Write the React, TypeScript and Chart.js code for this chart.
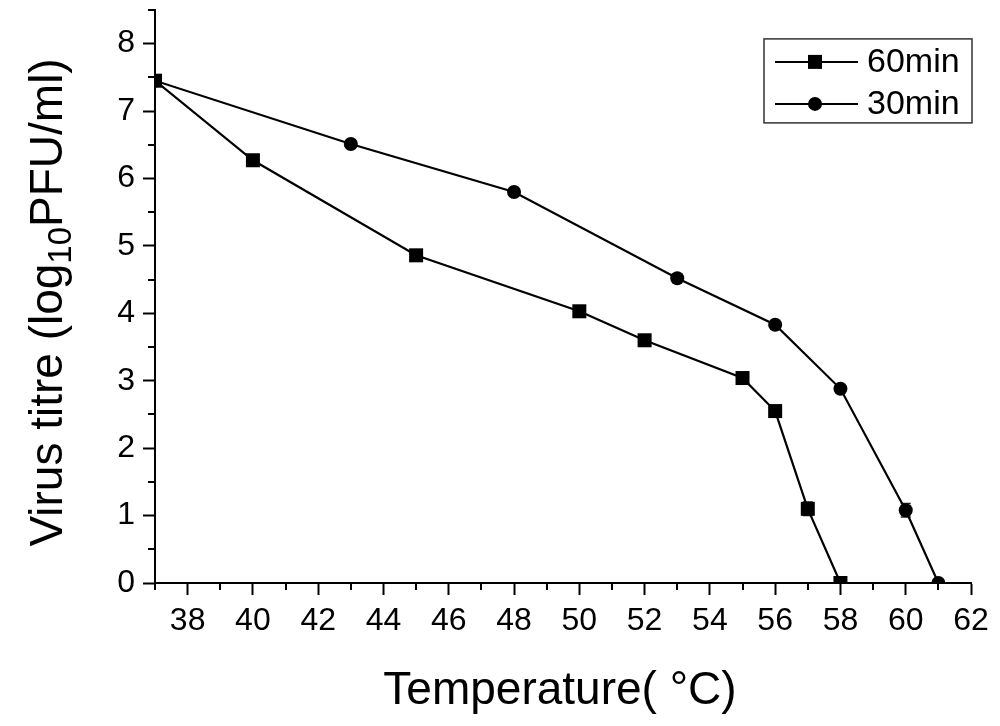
import React, { useEffect, useRef } from "react";
import { Chart, registerables } from "chart.js";

Chart.register(...registerables);

// Heat inactivation: virus titre after 60 min and 30 min at each temperature
const temps60 = [37, 40, 45, 50, 52, 55, 56, 57, 58];
const titre60 = [7.45, 6.27, 4.86, 4.03, 3.6, 3.04, 2.55, 1.1, 0];
const err60 = [0, 0.03, 0.03, 0.03, 0.08, 0.03, 0.03, 0.1, 0];

const temps30 = [37, 43, 48, 53, 56, 58, 60, 61];
const titre30 = [7.45, 6.51, 5.8, 4.52, 3.83, 2.88, 1.08, 0];
const err30 = [0, 0.03, 0.03, 0.03, 0.03, 0.03, 0.1, 0];

const seriesLabels = ["60min", "30min"];

const xTicks = [38, 40, 42, 44, 46, 48, 50, 52, 54, 56, 58, 60, 62];
const xMinorTicks = [37, 39, 41, 43, 45, 47, 49, 51, 53, 55, 57, 59, 61];
const yTicks = [0, 1, 2, 3, 4, 5, 6, 7, 8];
const yMinorTicks = [0.5, 1.5, 2.5, 3.5, 4.5, 5.5, 6.5, 7.5, 8.5];

const FONT = '"Liberation Sans", Arial, Helvetica, sans-serif';

const toPoints = (xs: number[], ys: number[]) => xs.map((x, i) => ({ x, y: ys[i] }));

// Short outward minor ticks on both axes
const minorTicksPlugin = {
  id: "minorTicks",
  afterDraw(chart: any) {
    const { ctx, chartArea, scales } = chart;
    ctx.save();
    ctx.strokeStyle = "#000";
    ctx.lineWidth = 2;
    ctx.beginPath();
    xMinorTicks.forEach((v) => {
      const px = Math.round(scales.x.getPixelForValue(v));
      ctx.moveTo(px, chartArea.bottom);
      ctx.lineTo(px, chartArea.bottom + 7);
    });
    yMinorTicks.forEach((v) => {
      const py = Math.round(scales.y.getPixelForValue(v));
      ctx.moveTo(chartArea.left, py);
      ctx.lineTo(chartArea.left - 7, py);
    });
    ctx.stroke();
    ctx.restore();
  },
};

// Vertical error bars with small caps, drawn under the markers
const errorBarsPlugin = {
  id: "errorBars",
  beforeDatasetsDraw(chart: any) {
    const { ctx, scales } = chart;
    const sets = [
      { xs: temps60, ys: titre60, es: err60 },
      { xs: temps30, ys: titre30, es: err30 },
    ];
    ctx.save();
    ctx.strokeStyle = "#222";
    ctx.lineWidth = 1.5;
    sets.forEach(({ xs, ys, es }) => {
      xs.forEach((x, i) => {
        if (!es[i]) return;
        const px = scales.x.getPixelForValue(x);
        const top = scales.y.getPixelForValue(ys[i] + es[i]);
        const bot = scales.y.getPixelForValue(Math.max(0, ys[i] - es[i]));
        ctx.beginPath();
        ctx.moveTo(px, top);
        ctx.lineTo(px, bot);
        ctx.moveTo(px - 5, top);
        ctx.lineTo(px + 5, top);
        ctx.moveTo(px - 5, bot);
        ctx.lineTo(px + 5, bot);
        ctx.stroke();
      });
    });
    ctx.restore();
  },
};

// Axis titles (with subscript in the y title) and the boxed legend
const annotationsPlugin = {
  id: "annotations",
  afterDraw(chart: any) {
    const { ctx, chartArea } = chart;
    ctx.save();
    ctx.fillStyle = "#000";

    // x-axis title
    ctx.font = `46px ${FONT}`;
    ctx.textAlign = "center";
    ctx.textBaseline = "alphabetic";
    ctx.fillText("Temperature( °C)", (chartArea.left + chartArea.right) / 2 - 3, 704);

    // y-axis title, rotated, with "10" as subscript
    const partA = "Virus titre (log";
    const partSub = "10";
    const partB = "PFU/ml)";
    ctx.font = `46px ${FONT}`;
    const wA = ctx.measureText(partA).width;
    const wB = ctx.measureText(partB).width;
    ctx.font = `33px ${FONT}`;
    const wS = ctx.measureText(partSub).width;
    const total = wA + wS + wB;
    ctx.translate(62, (chartArea.top + chartArea.bottom) / 2 + 6);
    ctx.rotate(-Math.PI / 2);
    ctx.textAlign = "left";
    let cx = -total / 2;
    ctx.font = `46px ${FONT}`;
    ctx.fillText(partA, cx, 0);
    cx += wA;
    ctx.font = `33px ${FONT}`;
    ctx.fillText(partSub, cx, 9);
    cx += wS;
    ctx.font = `46px ${FONT}`;
    ctx.fillText(partB, cx, 0);
    ctx.setTransform(1, 0, 0, 1, 0, 0);

    // legend box
    const boxRight = chartArea.right + 1;
    const boxLeft = boxRight - 208;
    const boxTop = chartArea.top + 29;
    const boxH = 84;
    ctx.strokeStyle = "#333";
    ctx.lineWidth = 1.5;
    ctx.strokeRect(boxLeft, boxTop, boxRight - boxLeft, boxH);

    const rows = [boxTop + 23, boxTop + 65];
    ctx.font = `34px ${FONT}`;
    ctx.textAlign = "left";
    ctx.textBaseline = "middle";
    rows.forEach((ry, i) => {
      ctx.strokeStyle = "#000";
      ctx.lineWidth = 2;
      ctx.beginPath();
      ctx.moveTo(boxLeft + 11, ry);
      ctx.lineTo(boxLeft + 94, ry);
      ctx.stroke();
      const mx = boxLeft + 51;
      ctx.fillStyle = "#000";
      if (i === 0) {
        ctx.fillRect(mx - 7, ry - 7, 14, 14);
      } else {
        ctx.beginPath();
        ctx.arc(mx, ry, 7, 0, Math.PI * 2);
        ctx.fill();
      }
      ctx.fillText(seriesLabels[i], boxLeft + 103, ry + 1);
    });
    ctx.restore();
  },
};

export default function App() {
  const canvasRef = useRef<HTMLCanvasElement | null>(null);

  useEffect(() => {
    document.body.style.margin = "0";
    const canvas = canvasRef.current;
    if (!canvas) return;

    const chart = new Chart(canvas, {
      type: "scatter",
      data: {
        datasets: [
          {
            label: seriesLabels[0],
            data: toPoints(temps60, titre60),
            showLine: true,
            borderColor: "#000",
            backgroundColor: "#000",
            borderWidth: 2.2,
            pointStyle: "rect",
            pointRadius: 9.9,
            pointHoverRadius: 9.9,
            pointBorderWidth: 0,
          },
          {
            label: seriesLabels[1],
            data: toPoints(temps30, titre30),
            showLine: true,
            borderColor: "#000",
            backgroundColor: "#000",
            borderWidth: 2.2,
            pointStyle: "circle",
            pointRadius: 7,
            pointHoverRadius: 7,
            pointBorderWidth: 0,
          },
        ],
      },
      options: {
        animation: false,
        responsive: false,
        maintainAspectRatio: false,
        events: [],
        layout: { padding: { top: 7, right: 29, left: 0, bottom: 0 } },
        plugins: {
          legend: { display: false },
          tooltip: { enabled: false },
        },
        scales: {
          x: {
            type: "linear",
            min: 37,
            max: 62,
            afterBuildTicks: (scale: any) => {
              scale.ticks = xTicks.map((v) => ({ value: v }));
            },
            afterFit: (scale: any) => {
              scale.height = 143;
              scale.paddingLeft = 0;
              scale.paddingRight = 0;
            },
            border: { display: true, color: "#000", width: 2 },
            grid: {
              display: true,
              drawOnChartArea: false,
              drawTicks: true,
              tickLength: 12,
              tickWidth: 2,
              tickColor: "#000",
            },
            ticks: {
              color: "#000",
              padding: 7,
              maxRotation: 0,
              autoSkip: false,
              font: { family: FONT, size: 32 },
            },
          },
          y: {
            type: "linear",
            min: 0,
            max: 8.5,
            afterBuildTicks: (scale: any) => {
              scale.ticks = yTicks.map((v) => ({ value: v }));
            },
            afterFit: (scale: any) => {
              scale.width = 155;
              scale.paddingTop = 0;
              scale.paddingBottom = 0;
            },
            border: { display: true, color: "#000", width: 2 },
            grid: {
              display: true,
              drawOnChartArea: false,
              drawTicks: true,
              tickLength: 12,
              tickWidth: 2,
              tickColor: "#000",
            },
            ticks: {
              color: "#000",
              padding: 8,
              autoSkip: false,
              font: { family: FONT, size: 32 },
            },
          },
        },
      },
      plugins: [minorTicksPlugin, errorBarsPlugin, annotationsPlugin],
    });

    return () => chart.destroy();
  }, []);

  return (
    <div style={{ width: 1000, height: 726, background: "#fff" }}>
      <canvas ref={canvasRef} width={1000} height={726} style={{ display: "block" }} />
    </div>
  );
}
